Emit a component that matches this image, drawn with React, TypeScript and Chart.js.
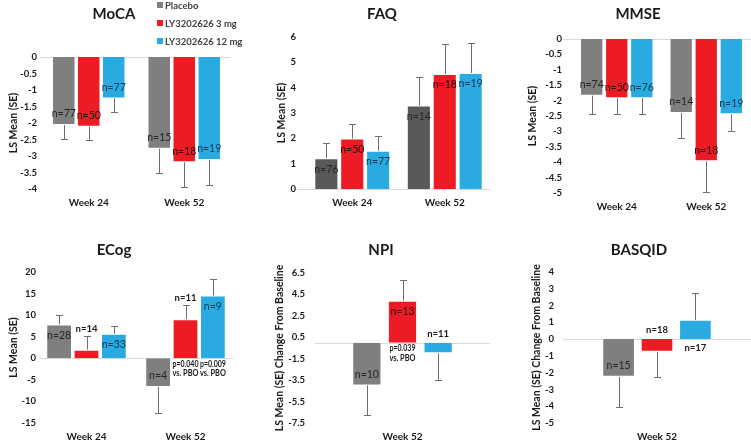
import React, { useEffect, useRef } from "react";
import { Chart, registerables } from "chart.js";

Chart.register(...registerables);

const FONT = 'Lato, "Open Sans", "DejaVu Sans", sans-serif';

// ---------- shared ----------
const SERIES = ["Placebo", "LY3202626 3 mg", "LY3202626 12 mg"];
const WEEKS = ["Week 24", "Week 52"];
const WEEK52_ONLY = ["Week 52"];

// ---------- MoCA ----------
const mocaTicks = [0, -0.5, -1, -1.5, -2, -2.5, -3, -3.5, -4];
const mocaPlacebo = [-2.06, -2.78];
const moca3mg = [-2.11, -3.19];
const moca12mg = [-1.26, -3.12];
const mocaPlaceboSE = [0.43, 0.74];
const moca3mgSE = [0.42, 0.76];
const moca12mgSE = [0.42, 0.76];
const mocaPlaceboN = [77, 15];
const moca3mgN = [50, 18];
const moca12mgN = [77, 19];

// ---------- FAQ ----------
const faqTicks = [0, 1, 2, 3, 4, 5, 6];
const faqPlacebo = [1.21, 3.3];
const faq3mg = [1.99, 4.54];
const faq12mg = [1.51, 4.58];
const faqPlaceboSE = [0.59, 1.13];
const faq3mgSE = [0.59, 1.18];
const faq12mgSE = [0.57, 1.17];
const faqPlaceboN = [76, 14];
const faq3mgN = [50, 18];
const faq12mgN = [77, 19];

// ---------- MMSE ----------
const mmseTicks = [0, -0.5, -1, -1.5, -2, -2.5, -3, -3.5, -4, -4.5, -5];
const mmsePlacebo = [-1.84, -2.4];
const mmse3mg = [-1.92, -3.97];
const mmse12mg = [-1.92, -2.44];
const mmsePlaceboSE = [0.59, 0.81];
const mmse3mgSE = [0.5, 1.01];
const mmse12mgSE = [0.5, 0.56];
const mmsePlaceboN = [74, 14];
const mmse3mgN = [50, 18];
const mmse12mgN = [76, 19];

// ---------- ECog ----------
const ecogTicks = [20, 15, 10, 5, 0, -5, -10, -15];
const ecogPlacebo = [7.83, -6.68];
const ecog3mg = [2.0, 9.07];
const ecog12mg = [5.66, 14.57];
const ecogPlaceboSE = [2.17, 5.89];
const ecog3mgSE = [3.26, 3.18];
const ecog12mgSE = [1.71, 3.81];
const ecogPlaceboN = [28, 4];
const ecog3mgN = [14, 11];
const ecog12mgN = [33, 9];
const ecog3mgP = ["", "p=0.040"];
const ecog12mgP = ["", "p=0.009"];

// ---------- NPI ----------
const npiTicks = [6.5, 4.5, 2.5, 0.5, -1.5, -3.5, -5.5, -7.5];
const npiPlacebo = [-3.99];
const npi3mg = [3.91];
const npi12mg = [-0.98];
const npiPlaceboSE = [2.72];
const npi3mgSE = [1.98];
const npi12mgSE = [2.54];
const npiPlaceboN = [10];
const npi3mgN = [13];
const npi12mgN = [11];
const npi3mgP = ["p=0.039"];

// ---------- BASQID ----------
const basqidTicks = [4, 3, 2, 1, 0, -1, -2, -3, -4, -5];
const basqidPlacebo = [-2.25];
const basqid3mg = [-0.76];
const basqid12mg = [1.15];
const basqidPlaceboSE = [1.78];
const basqid3mgSE = [1.52];
const basqid12mgSE = [1.61];
const basqidPlaceboN = [15];
const basqid3mgN = [18];
const basqid12mgN = [17];

// ---------- styles ----------
const GREY = "#7f7f7f";
const DARK_GREY = "#595959";
const RED = "#ed1c24";
const BLUE = "#29abe2";
const LABEL_COLORS = ["#262626", "#2a0a0a", "#0b3654"];

type PanelCfg = {
  title: string;
  canvas: { x: number; y: number; w: number; h: number };
  area: { l: number; r: number; t: number; b: number };
  titlePos: { x: number; y: number };
  tickRight: number;
  yTitleX: number;
  xLabelGap: number;
  yTitle: string;
  yTitleSize: number;
  yMin: number;
  yMax: number;
  ticks: number[];
  categories: string[];
  values: number[][];
  errors: number[][];
  ns: number[][];
  modes: string[][];
  pvals?: (string[] | null)[];
  pGap?: number;
  colors: string[];
  catPct: number;
  barPct: number;
  zero: [number, number];
  legend?: boolean;
};

const panels: PanelCfg[] = [
  {
    title: "MoCA",
    canvas: { x: 0, y: 0, w: 245, h: 216 },
    area: { l: 41, r: 232, t: 57, b: 189 },
    titlePos: { x: 114, y: 14 },
    tickRight: 37,
    yTitleX: 14,
    xLabelGap: 14,
    yTitle: "LS Mean (SE)",
    yTitleSize: 10.5,
    yMin: -4,
    yMax: 0,
    ticks: mocaTicks,
    categories: WEEKS,
    values: [mocaPlacebo, moca3mg, moca12mg],
    errors: [mocaPlaceboSE, moca3mgSE, moca12mgSE],
    ns: [mocaPlaceboN, moca3mgN, moca12mgN],
    modes: [["in", "in"], ["in", "in"], ["in", "in"]],
    colors: [GREY, RED, BLUE],
    catPct: 0.785,
    barPct: 0.94,
    zero: [-1, -2],
    legend: true,
  },
  {
    title: "FAQ",
    canvas: { x: 250, y: 0, w: 250, h: 216 },
    area: { l: 306, r: 491, t: 37, b: 189 },
    titlePos: { x: 382, y: 14 },
    tickRight: 296,
    yTitleX: 282,
    xLabelGap: 14,
    yTitle: "LS Mean (SE)",
    yTitleSize: 10.5,
    yMin: 0,
    yMax: 6,
    ticks: faqTicks,
    categories: WEEKS,
    values: [faqPlacebo, faq3mg, faq12mg],
    errors: [faqPlaceboSE, faq3mgSE, faq12mgSE],
    ns: [faqPlaceboN, faq3mgN, faq12mgN],
    modes: [["in", "in"], ["in", "in"], ["in", "in"]],
    colors: [DARK_GREY, RED, BLUE],
    catPct: 0.84,
    barPct: 0.93,
    zero: [-9, -1],
  },
  {
    title: "MMSE",
    canvas: { x: 500, y: 0, w: 251, h: 216 },
    area: { l: 572, r: 751, t: 39, b: 193 },
    titlePos: { x: 638, y: 14 },
    tickRight: 562,
    yTitleX: 533,
    xLabelGap: 14,
    yTitle: "LS Mean (SE)",
    yTitleSize: 10.5,
    yMin: -5,
    yMax: 0,
    ticks: mmseTicks,
    categories: WEEKS,
    values: [mmsePlacebo, mmse3mg, mmse12mg],
    errors: [mmsePlaceboSE, mmse3mgSE, mmse12mgSE],
    ns: [mmsePlaceboN, mmse3mgN, mmse12mgN],
    modes: [["in", "in"], ["in", "in"], ["in", "in"]],
    colors: [GREY, RED, BLUE],
    catPct: 0.84,
    barPct: 0.93,
    zero: [-9, 0],
  },
  {
    title: "ECog",
    canvas: { x: 0, y: 220, w: 245, h: 220 },
    area: { l: 37, r: 235, t: 272, b: 423 },
    titlePos: { x: 114, y: 250 },
    tickRight: 36,
    yTitleX: 14,
    xLabelGap: 14,
    yTitle: "LS Mean (SE)",
    yTitleSize: 10.5,
    yMin: -15,
    yMax: 20,
    ticks: ecogTicks,
    categories: WEEKS,
    values: [ecogPlacebo, ecog3mg, ecog12mg],
    errors: [ecogPlaceboSE, ecog3mgSE, ecog12mgSE],
    ns: [ecogPlaceboN, ecog3mgN, ecog12mgN],
    modes: [["in", "in"], ["err", "err"], ["in", "in"]],
    pvals: [null, ecog3mgP, ecog12mgP],
    pGap: 9.5,
    colors: [GREY, RED, BLUE],
    catPct: 0.83,
    barPct: 0.94,
    zero: [3, -2],
  },
  {
    title: "NPI",
    canvas: { x: 250, y: 220, w: 250, h: 220 },
    area: { l: 315, r: 490, t: 273, b: 423 },
    titlePos: { x: 381, y: 250 },
    tickRight: 305,
    yTitleX: 280,
    xLabelGap: 14,
    yTitle: "LS Mean (SE) Change From Baseline",
    yTitleSize: 10.5,
    yMin: -7.5,
    yMax: 6.5,
    ticks: npiTicks,
    categories: WEEK52_ONLY,
    values: [npiPlacebo, npi3mg, npi12mg],
    errors: [npiPlaceboSE, npi3mgSE, npi12mgSE],
    ns: [npiPlaceboN, npi3mgN, npi12mgN],
    modes: [["in"], ["in"], ["base"]],
    pvals: [null, npi3mgP, null],
    pGap: 10.5,
    colors: [GREY, RED, BLUE],
    catPct: 0.611,
    barPct: 0.82,
    zero: [0, 0],
  },
  {
    title: "BASQID",
    canvas: { x: 500, y: 220, w: 251, h: 220 },
    area: { l: 563, r: 751, t: 272, b: 423 },
    titlePos: { x: 639, y: 250 },
    tickRight: 554,
    yTitleX: 537,
    xLabelGap: 14,
    yTitle: "LS Mean (SE) Change From Baseline",
    yTitleSize: 10.5,
    yMin: -5,
    yMax: 4,
    ticks: basqidTicks,
    categories: WEEK52_ONLY,
    values: [basqidPlacebo, basqid3mg, basqid12mg],
    errors: [basqidPlaceboSE, basqid3mgSE, basqid12mgSE],
    ns: [basqidPlaceboN, basqid3mgN, basqid12mgN],
    modes: [["in"], ["base"], ["base"]],
    colors: [GREY, RED, BLUE],
    catPct: 0.613,
    barPct: 0.85,
    zero: [0, 0],
  },
];

// ---------- plugins ----------
const decorPlugin = {
  id: "decor",
  beforeDatasetsDraw(chart: any, _a: any, opts: any) {
    const { ctx, chartArea } = chart;
    const y = chart.scales.y;
    const y0 = Math.round(y.getPixelForValue(0)) + 0.5;
    ctx.save();
    ctx.strokeStyle = "#d9d9d9";
    ctx.lineWidth = 1;
    ctx.beginPath();
    ctx.moveTo(chartArea.left + opts.zero[0], y0);
    ctx.lineTo(chartArea.right + opts.zero[1], y0);
    ctx.stroke();
    ctx.restore();
  },
  afterDatasetsDraw(chart: any, _a: any, opts: any) {
    const { ctx } = chart;
    const y = chart.scales.y;
    const zeroPx = y.getPixelForValue(0);
    ctx.save();
    // error bars
    chart.data.datasets.forEach((ds: any, di: number) => {
      const meta = chart.getDatasetMeta(di);
      meta.data.forEach((bar: any, i: number) => {
        const v = ds.data[i];
        const e = ds.errors[i];
        const sgn = v >= 0 ? 1 : -1;
        const yEnd = y.getPixelForValue(v);
        const yErr = y.getPixelForValue(v + sgn * e);
        const x = Math.round(bar.x) + 0.5;
        ctx.strokeStyle = "#6e6e6e";
        ctx.lineWidth = 1;
        ctx.beginPath();
        ctx.moveTo(x, yEnd);
        ctx.lineTo(x, Math.round(yErr) + 0.5);
        ctx.moveTo(x - 3.5, Math.round(yErr) + 0.5);
        ctx.lineTo(x + 3.5, Math.round(yErr) + 0.5);
        ctx.stroke();
      });
    });
    // n labels & p-values
    ctx.textAlign = "center";
    ctx.textBaseline = "middle";
    chart.data.datasets.forEach((ds: any, di: number) => {
      const meta = chart.getDatasetMeta(di);
      meta.data.forEach((bar: any, i: number) => {
        const v = ds.data[i];
        const e = ds.errors[i];
        const sgn = v >= 0 ? 1 : -1;
        const yEnd = y.getPixelForValue(v);
        const mode = ds.modes[i];
        const text = "n=" + ds.ns[i];
        if (mode === "in") {
          ctx.font = `10.5px ${FONT}`;
          ctx.fillStyle = ds.labelColor;
          ctx.fillText(text, bar.x, yEnd + sgn * 11);
        } else if (mode === "err") {
          const yErr = y.getPixelForValue(v + sgn * e);
          ctx.font = `bold 9.5px ${FONT}`;
          ctx.fillStyle = "#1a1a1a";
          ctx.fillText(text, bar.x, yErr - sgn * 7);
        } else if (mode === "base") {
          ctx.font = `bold 9.5px ${FONT}`;
          ctx.fillStyle = "#1a1a1a";
          ctx.fillText(text, bar.x, zeroPx + sgn * 9);
        }
        const p = ds.pvals ? ds.pvals[i] : "";
        if (p) {
          ctx.font = `bold 8.5px ${FONT}`;
          ctx.fillStyle = "#1a1a1a";
          ctx.fillText(p, bar.x, zeroPx + 5.5, 26);
          ctx.fillText("vs. PBO", bar.x, zeroPx + 5.5 + opts.pGap, 26);
        }
      });
    });
    // title
    ctx.font = `bold 15px ${FONT}`;
    ctx.fillStyle = "#1a1a1a";
    ctx.fillText(opts.title, opts.titleX, opts.titleY);
    // legend
    if (opts.legend) {
      ctx.textAlign = "left";
      ctx.font = `bold 9.5px ${FONT}`;
      chart.data.datasets.forEach((ds: any, di: number) => {
        const cy = 5 + di * 18;
        ctx.fillStyle = ds.backgroundColor;
        ctx.fillRect(157, cy - 3, 6, 6);
        ctx.fillStyle = "#404040";
        ctx.fillText(ds.label, 165, cy + 0.5);
      });
    }
    ctx.restore();
  },
};

function Panel({ cfg }: { cfg: PanelCfg }) {
  const ref = useRef<HTMLCanvasElement | null>(null);
  useEffect(() => {
    if (!ref.current) return;
    const c = cfg.canvas;
    const yAxisW = cfg.area.l - c.x;
    const xAxisH = c.y + c.h - cfg.area.b;
    const tickFont = { family: FONT, size: 9.5, weight: "bold" as const };
    const chart = new Chart(ref.current, {
      type: "bar",
      data: {
        labels: cfg.categories,
        datasets: SERIES.map((label, si) => ({
          label,
          data: cfg.values[si],
          errors: cfg.errors[si],
          ns: cfg.ns[si],
          modes: cfg.modes[si],
          pvals: cfg.pvals ? cfg.pvals[si] : null,
          labelColor: LABEL_COLORS[si],
          backgroundColor: cfg.colors[si],
          borderColor: "rgba(255,255,255,0.55)",
          borderWidth: 1,
          categoryPercentage: cfg.catPct,
          barPercentage: cfg.barPct,
        })) as any,
      },
      options: {
        responsive: false,
        animation: false,
        devicePixelRatio: 1,
        layout: {
          padding: {
            left: 0,
            right: c.x + c.w - cfg.area.r,
            top: cfg.area.t - c.y,
            bottom: 0,
          },
        },
        plugins: {
          legend: { display: false },
          title: { display: false },
          tooltip: { enabled: false },
          decor: {
            zero: cfg.zero,
            title: cfg.title,
            titleX: cfg.titlePos.x - c.x,
            titleY: cfg.titlePos.y - c.y,
            legend: !!cfg.legend,
            pGap: cfg.pGap || 10,
          },
        } as any,
        scales: {
          x: {
            grid: { display: false, drawTicks: false },
            border: { display: false },
            ticks: {
              font: { family: FONT, size: 10, weight: "bold" },
              color: "#1a1a1a",
              padding: cfg.xLabelGap - 6,
              maxRotation: 0,
            },
            afterFit: (s: any) => {
              s.height = xAxisH;
            },
          },
          y: {
            min: cfg.yMin,
            max: cfg.yMax,
            grid: { display: false, drawTicks: false },
            border: { display: false },
            ticks: {
              font: tickFont,
              color: "#1a1a1a",
              padding: cfg.area.l - cfg.tickRight,
              autoSkip: false,
              callback: (v: any) => String(v),
            },
            title: {
              display: true,
              text: cfg.yTitle,
              font: { family: FONT, size: cfg.yTitleSize, weight: "bold" },
              color: "#1a1a1a",
              padding: { top: cfg.yTitleX - c.x - cfg.yTitleSize * 0.6, bottom: 0 },
            },
            afterBuildTicks: (s: any) => {
              s.ticks = cfg.ticks.map((v) => ({ value: v }));
            },
            afterFit: (s: any) => {
              s.width = yAxisW;
            },
          },
        } as any,
      },
      plugins: [decorPlugin],
    });
    return () => chart.destroy();
  }, [cfg]);
  const c = cfg.canvas;
  return (
    <canvas
      ref={ref}
      width={c.w}
      height={c.h}
      style={{ position: "absolute", left: c.x, top: c.y, width: c.w, height: c.h }}
    />
  );
}

export default function App() {
  return (
    <div
      style={{
        position: "fixed",
        left: 0,
        top: 0,
        width: 751,
        height: 440,
        background: "#ffffff",
        overflow: "hidden",
      }}
    >
      {panels.map((p) => (
        <Panel key={p.title} cfg={p} />
      ))}
    </div>
  );
}
